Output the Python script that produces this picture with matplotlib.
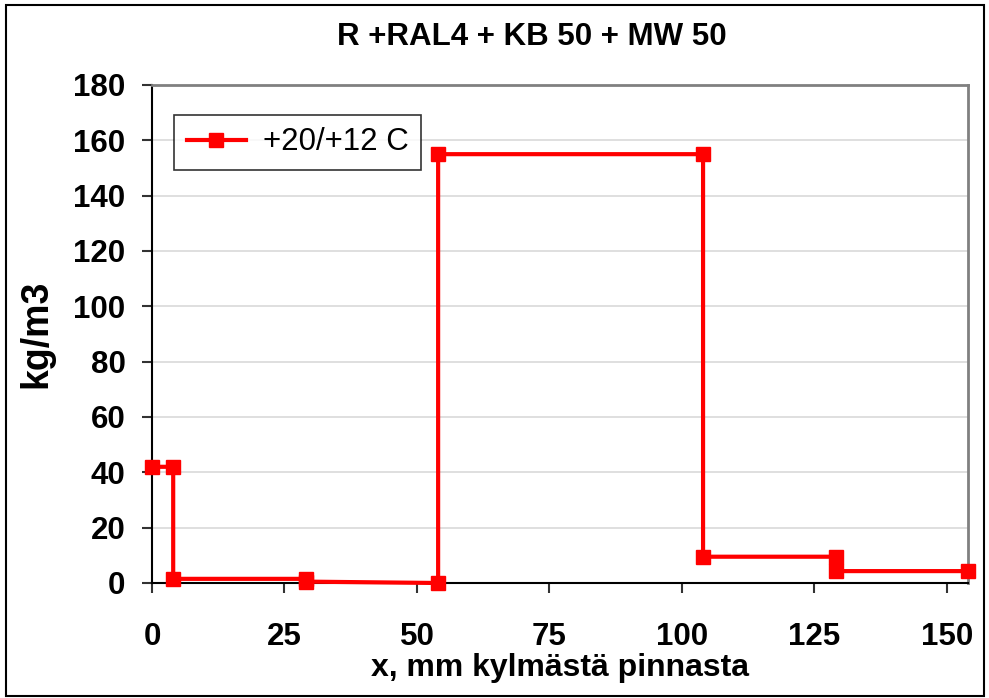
import matplotlib
matplotlib.use("Agg")
import matplotlib.pyplot as plt
from matplotlib.patches import Rectangle

x_mm = [0, 4, 4, 29, 29, 54, 54, 104, 104, 129, 129, 154]
density = [42, 42, 1.5, 1.5, 0.5, 0, 155, 155, 9.5, 9.5, 4.3, 4.3]
series_label = "+20/+12 C"
title = "R +RAL4 + KB 50 + MW 50"
xlabel = "x, mm kylmästä pinnasta"
ylabel = "kg/m3"
xticks = [0, 25, 50, 75, 100, 125, 150]
yticks = [0, 20, 40, 60, 80, 100, 120, 140, 160, 180]

plt.rcParams['font.family'] = ['Liberation Sans', 'DejaVu Sans']

fig = plt.figure(figsize=(9.89, 6.98), dpi=100)
ax = fig.add_axes([152/989, 1-583/698, (968-152)/989, (583-85)/698])

ax.plot(x_mm, density, color='#ff0000', lw=3, marker='s', ms=9.5,
        markeredgecolor='#ff0000', markerfacecolor='#ff0000', label=series_label,
        clip_on=False, zorder=3)

ax.set_xlim(0, 154)
ax.set_ylim(0, 180)
ax.set_xticks(xticks)
ax.set_yticks(yticks)
ax.yaxis.grid(True, color='#d9d9d9', lw=1.2)
ax.set_axisbelow(True)
for s in ['top', 'right']:
    ax.spines[s].set_color('#808080')
    ax.spines[s].set_linewidth(2)
for s in ['left', 'bottom']:
    ax.spines[s].set_color('#000000')
    ax.spines[s].set_linewidth(1.5)
ax.tick_params(axis='both', direction='out', length=7, width=1.5, color='#333333',
               labelsize=22.5)
for lab in ax.get_xticklabels() + ax.get_yticklabels():
    lab.set_fontweight('bold')
ax.tick_params(axis='x', pad=21)
ax.tick_params(axis='y', pad=12)

ax.set_xlabel(xlabel, fontsize=23, fontweight='bold', labelpad=1)
ax.set_ylabel(ylabel, fontsize=27, fontweight='bold', labelpad=14)
fig.text(0.538, 1-37/698, title, ha='center', va='center', fontsize=22.5, fontweight='bold')

leg = ax.legend(loc='upper left', bbox_to_anchor=((174-152)/816, (583-115)/498),
                fontsize=22.5, frameon=True, fancybox=False, borderaxespad=0,
                handlelength=1.9, borderpad=0.4, handletextpad=0.55)
leg.get_frame().set_edgecolor('#000000')
leg.get_frame().set_linewidth(1.2)

fig.patches.append(Rectangle((6/989, 2/698), 978/989, 691/698, transform=fig.transFigure,
                             fill=False, edgecolor='#000000', lw=1.5))

fig.savefig("out.png", dpi=100)
